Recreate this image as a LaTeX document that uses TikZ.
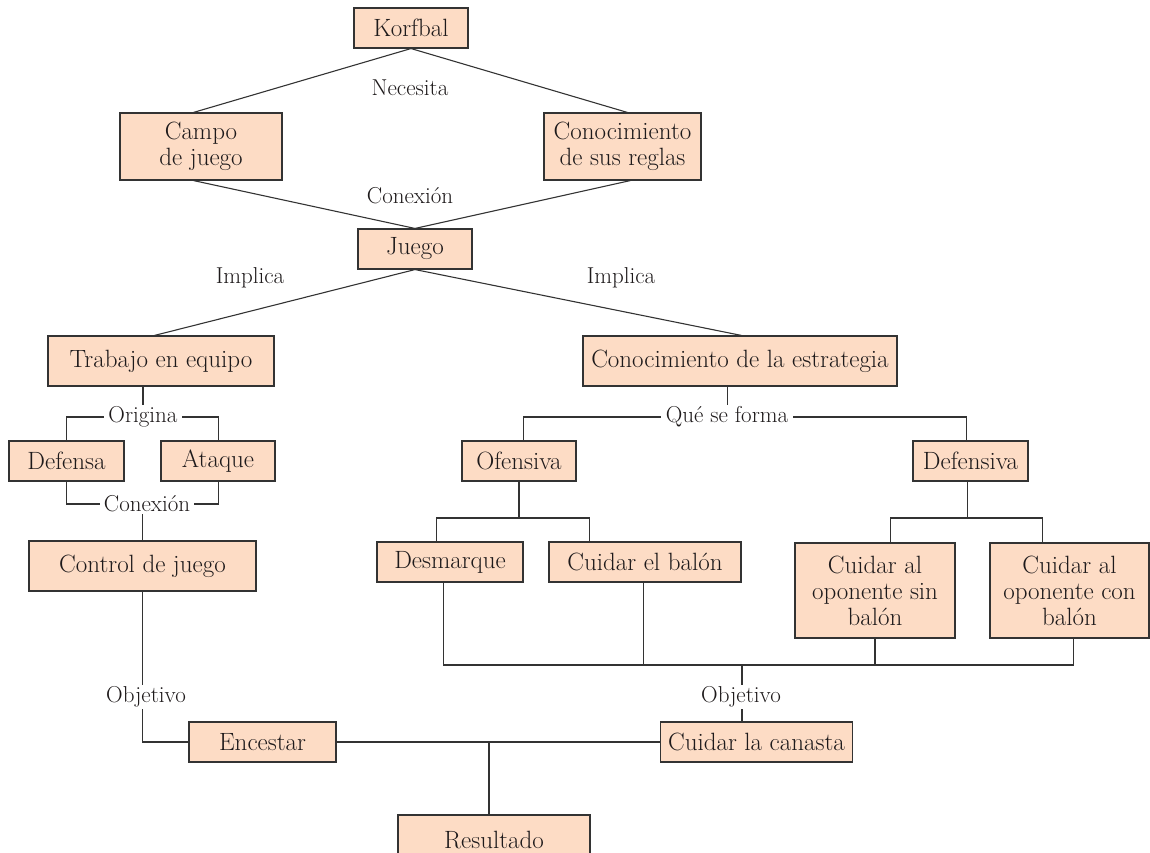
\documentclass[tikz,border=0pt]{standalone}
\usetikzlibrary{calc,backgrounds}
\definecolor{boxfill}{HTML}{FDDCC5}
\definecolor{boxline}{HTML}{333333}
\definecolor{inkcol}{HTML}{1E1A1B}
\definecolor{wirecol}{HTML}{333333}
\tikzset{
  box/.style={draw=boxline, line width=1.1pt, fill=boxfill, inner sep=0pt,
    align=center, text=inkcol, font=\fontsize{25}{26}\selectfont},
  tag/.style={fill=white, inner sep=2pt, text=inkcol,
    font=\fontsize{23}{25}\selectfont},
  wire/.style={draw=wirecol, line width=1.1pt}
}
\begin{document}
\begin{tikzpicture}[x=1pt,y=-1pt]
\useasboundingbox (0,0) rectangle (1150,853);
\clip (0,0) rectangle (1150,853);

% boxes
\node[box, minimum width=114, minimum height=40] (korf) at (411,28) {Korfbal};
\node[box, minimum width=162, minimum height=67] (campo) at (201,146.5) {Campo\\de juego};
\node[box, minimum width=157, minimum height=67] (reglas) at (622.5,146.5) {Conocimiento\\de sus reglas};
\node[box, minimum width=114, minimum height=40] (juego) at (415,249) {Juego};
\node[box, minimum width=226, minimum height=50] (trabajo) at (161,361) {Trabajo en equipo};
\node[box, minimum width=314, minimum height=50] (estr) at (740,361) {Conocimiento de la estrategia};
\node[box, minimum width=115, minimum height=40] (defensa) at (66.5,461) {Defensa};
\node[box, minimum width=114, minimum height=40] (ataque) at (218,461) {Ataque};
\node[box, minimum width=227, minimum height=50] (control) at (142.5,566) {Control de juego};
\node[box, minimum width=114, minimum height=40] (ofens) at (519,461) {Ofensiva};
\node[box, minimum width=115, minimum height=40] (defens) at (970.5,461) {Defensiva};
\node[box, minimum width=146, minimum height=40] (desm) at (450,562) {Desmarque};
\node[box, minimum width=192, minimum height=40] (cuidbal) at (645,562) {Cuidar el balón};
\node[box, minimum width=160, minimum height=95] (sinbal) at (875,590.5) {Cuidar al\\oponente sin\\balón};
\node[box, minimum width=159, minimum height=95] (conbal) at (1069.5,590.5) {Cuidar al\\oponente con\\balón};
\node[box, minimum width=147, minimum height=40] (encestar) at (262.5,742) {Encestar};
\node[box, minimum width=192, minimum height=40] (canasta) at (756.5,742) {Cuidar la canasta};
\node[box, minimum width=192, minimum height=50] (result) at (494,840) {Resultado};

% connectors, kept behind the boxes
\begin{scope}[on background layer]
% Korfbal -> Campo / Reglas
\draw[wire] (korf.south) -- ([xshift=74]campo.north west);
\draw[wire] (korf.south) -- ([xshift=84]reglas.north west);
% Campo / Reglas -> Juego
\draw[wire] ([xshift=74]campo.south west) -- (juego.north);
\draw[wire] ([xshift=87]reglas.south west) -- (juego.north);
% Juego -> Trabajo / Estrategia
\draw[wire] (juego.south) -- ([xshift=107]trabajo.north west);
\draw[wire] (juego.south) -- ([xshift=159]estr.north west);

% Trabajo en equipo -> Defensa / Ataque
\coordinate (orig) at (143,417);
\draw[wire] ([xshift=-18]trabajo.south) -- ([xshift=-18]trabajo.south |- orig);
\draw[wire] ([xshift=58]defensa.north west) |- (orig) -| ([xshift=58]ataque.north west);
% Defensa / Ataque -> Control de juego
\coordinate (conx) at (143,504);
\draw[wire] ([xshift=58]defensa.south west) |- (conx) -| ([xshift=58]ataque.south west);
\draw[wire] (control.north |- conx) -- (control.north);

% Estrategia -> Ofensiva / Defensiva
\coordinate (qsf) at (728,417);
\draw[wire] ([xshift=145]estr.south west) -- ([xshift=145]estr.south west |- qsf);
\draw[wire] ([xshift=62]ofens.north west) |- (qsf) -| ([xshift=54]defens.north west);

% Ofensiva -> Desmarque / Cuidar el balon
\coordinate (ofb) at (514,518);
\draw[wire] (ofens.south) -- (ofens.south |- ofb);
\draw[wire] ([xshift=60]desm.north west) |- (ofb) -| ([xshift=41]cuidbal.north west);
% Defensiva -> oponentes
\coordinate (dfb) at (967,518);
\draw[wire] ([xshift=-3]defens.south) -- ([xshift=-3]defens.south |- dfb);
\draw[wire] ([xshift=96]sinbal.north west) |- (dfb) -| ([xshift=53]conbal.north west);

% bottom bus -> Cuidar la canasta
\coordinate (bus) at (742,665);
\draw[wire] ([xshift=67]desm.south west) |- (bus) -| ([xshift=84]conbal.south west);
\draw[wire] ([xshift=95]cuidbal.south west) -- ([xshift=95]cuidbal.south west |- bus);
\draw[wire] (sinbal.south) -- (sinbal.south |- bus);
\draw[wire] (bus) -- (bus |- canasta.north);

% Control de juego -> Encestar
\draw[wire] (control.south) |- (encestar.west);
% Encestar -- Cuidar la canasta -> Resultado
\coordinate (res) at (489,742);
\draw[wire] (encestar.east) -- (canasta.west);
\draw[wire] (res) -- (res |- result.north);
\end{scope}

% link labels
\node[tag] (lnec) at (410,88) {Necesita};
\node[tag] (lcon1) at (410,196) {Conexión};
\node[tag] (limp1) at (250,278) {Implica};
\node[tag] (limp2) at (621,278) {Implica};
\node[tag, inner xsep=4pt] (lorig) at (143,417) {Origina};
\node[tag, inner xsep=4pt] (lcon2) at (147,504) {Conexión};
\node[tag, inner xsep=5pt] (lqsf) at (727,417) {Qué se forma};
\node[tag] (lobj1) at (146,697) {Objetivo};
\node[tag] (lobj2) at (741,697) {Objetivo};
\end{tikzpicture}
\end{document}
